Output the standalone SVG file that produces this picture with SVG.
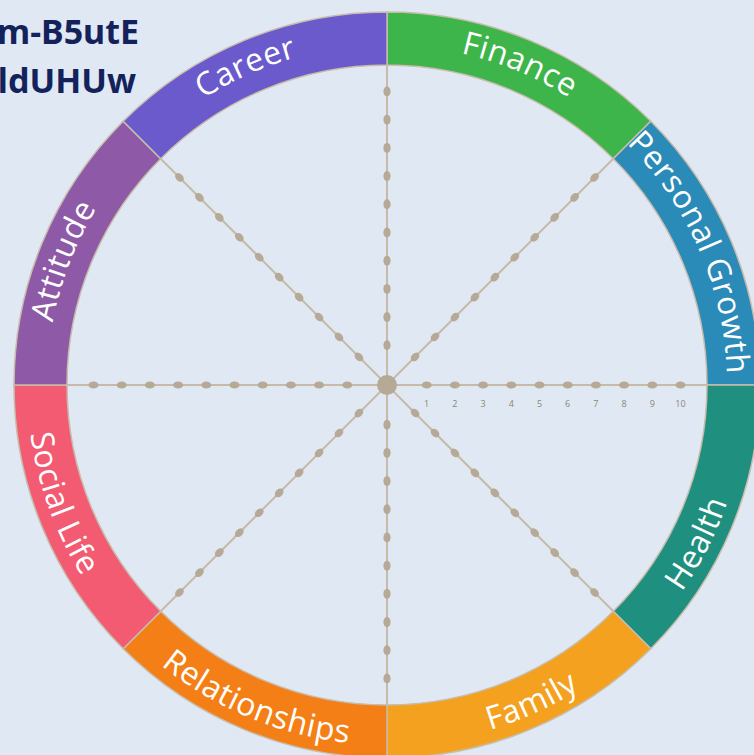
<svg xmlns="http://www.w3.org/2000/svg" xmlns:xlink="http://www.w3.org/1999/xlink" width="754" height="755" viewBox="0 0 754 755">
  <style>
    .seg { stroke: #c8bcab; stroke-width: 1.5; }
    .lbl { font-family: "Open Sans", "Noto Sans", "Liberation Sans", sans-serif; font-size: 32px; fill: #ffffff; letter-spacing: 0.5px; }
    .spoke { stroke: #c6baa8; stroke-width: 2; }
    .dot { fill: #b6a996; }
    .num { font-family: "Open Sans", "Liberation Sans", sans-serif; font-size: 9px; fill: #8e8476; text-anchor: middle; }
    .id { font-family: "Noto Sans", "Open Sans", "Liberation Sans", sans-serif; font-weight: bold; font-size: 34px; fill: #13225a; text-anchor: end; }
  </style>
  <defs>
    <!-- one spoke pointing right from the hub, with its ten score marks -->
    <g id="spoke">
      <line class="spoke" x1="0" y1="0" x2="320" y2="0"/>
      <ellipse class="dot" cx="39.7" cy="0" rx="5" ry="3.6"/>
      <ellipse class="dot" cx="67.9" cy="0" rx="5" ry="3.6"/>
      <ellipse class="dot" cx="96.1" cy="0" rx="5" ry="3.6"/>
      <ellipse class="dot" cx="124.3" cy="0" rx="5" ry="3.6"/>
      <ellipse class="dot" cx="152.5" cy="0" rx="5" ry="3.6"/>
      <ellipse class="dot" cx="180.7" cy="0" rx="5" ry="3.6"/>
      <ellipse class="dot" cx="208.9" cy="0" rx="5" ry="3.6"/>
      <ellipse class="dot" cx="237.1" cy="0" rx="5" ry="3.6"/>
      <ellipse class="dot" cx="265.3" cy="0" rx="5" ry="3.6"/>
      <ellipse class="dot" cx="293.5" cy="0" rx="5" ry="3.6"/>
    </g>
    <!-- label baselines: upper labels run clockwise, lower ones counter-clockwise -->
    <path id="p-finance" d="M 284.76 60.74 A 340 340 0 0 1 688.58 228.0"/>
    <path id="p-growth" d="M 538.71 80.72 A 340 340 0 0 1 713.0 481.57"/>
    <path id="p-career" d="M 81.41 235.95 A 340 340 0 0 1 480.72 58.17"/>
    <path id="p-attitude" d="M 65.52 495.69 A 340 340 0 0 1 222.16 87.63"/>
    <path id="p-health" d="M 527.66 716.38 A 360 360 0 0 0 737.77 304.02"/>
    <path id="p-family" d="M 290.79 731.91 A 360 360 0 0 0 711.93 539.98"/>
    <path id="p-relations" d="M 67.68 551.23 A 360 360 0 0 0 495.26 728.34"/>
    <path id="p-social" d="M 48.71 261.87 A 360 360 0 0 0 207 696.77"/>
  </defs>

  <rect width="754" height="755" fill="#e0e8f4"/>

  <!-- spokes from the hub to the rim -->
  <g id="connectors">
    <use xlink:href="#spoke" transform="translate(387,385) rotate(0)"/>
    <use xlink:href="#spoke" transform="translate(387,385) rotate(45)"/>
    <use xlink:href="#spoke" transform="translate(387,385) rotate(90)"/>
    <use xlink:href="#spoke" transform="translate(387,385) rotate(135)"/>
    <use xlink:href="#spoke" transform="translate(387,385) rotate(180)"/>
    <use xlink:href="#spoke" transform="translate(387,385) rotate(225)"/>
    <use xlink:href="#spoke" transform="translate(387,385) rotate(270)"/>
    <use xlink:href="#spoke" transform="translate(387,385) rotate(315)"/>
  </g>

  <g id="hub">
    <circle cx="387" cy="385" r="10" fill="#b6a996"/>
  </g>

  <!-- scale along the right spoke -->
  <g id="scale">
    <text class="num" x="426.7" y="407">1</text>
    <text class="num" x="454.9" y="407">2</text>
    <text class="num" x="483.1" y="407">3</text>
    <text class="num" x="511.3" y="407">4</text>
    <text class="num" x="539.5" y="407">5</text>
    <text class="num" x="567.7" y="407">6</text>
    <text class="num" x="595.9" y="407">7</text>
    <text class="num" x="624.1" y="407">8</text>
    <text class="num" x="652.3" y="407">9</text>
    <text class="num" x="680.5" y="407">10</text>
  </g>

  <!-- rim segments -->
  <g id="finance">
    <path class="seg" fill="#3db54a" d="M 387 12 A 373 373 0 0 1 650.75 121.25 L 613.27 158.73 A 320 320 0 0 0 387 65 Z"/>
    <text class="lbl"><textPath xlink:href="#p-finance" startOffset="50%" text-anchor="middle">Finance</textPath></text>
  </g>
  <g id="personal-growth">
    <path class="seg" fill="#2a8ab8" d="M 650.75 121.25 A 373 373 0 0 1 760 385 L 707 385 A 320 320 0 0 0 613.27 158.73 Z"/>
    <text class="lbl"><textPath xlink:href="#p-growth" startOffset="50%" text-anchor="middle">Personal Growth</textPath></text>
  </g>
  <g id="health">
    <path class="seg" fill="#1f907f" d="M 760 385 A 373 373 0 0 1 650.75 648.75 L 613.27 611.27 A 320 320 0 0 0 707 385 Z"/>
    <text class="lbl"><textPath xlink:href="#p-health" startOffset="50%" text-anchor="middle">Health</textPath></text>
  </g>
  <g id="family">
    <path class="seg" fill="#f4a11f" d="M 650.75 648.75 A 373 373 0 0 1 387 758 L 387 705 A 320 320 0 0 0 613.27 611.27 Z"/>
    <text class="lbl"><textPath xlink:href="#p-family" startOffset="50%" text-anchor="middle">Family</textPath></text>
  </g>
  <g id="relationships">
    <path class="seg" fill="#f47f16" d="M 387 758 A 373 373 0 0 1 123.25 648.75 L 160.73 611.27 A 320 320 0 0 0 387 705 Z"/>
    <text class="lbl"><textPath xlink:href="#p-relations" startOffset="50%" text-anchor="middle">Relationships</textPath></text>
  </g>
  <g id="social-life">
    <path class="seg" fill="#f25b72" d="M 123.25 648.75 A 373 373 0 0 1 14 385 L 67 385 A 320 320 0 0 0 160.73 611.27 Z"/>
    <text class="lbl"><textPath xlink:href="#p-social" startOffset="50%" text-anchor="middle">Social Life</textPath></text>
  </g>
  <g id="attitude">
    <path class="seg" fill="#8e5aa8" d="M 14 385 A 373 373 0 0 1 123.25 121.25 L 160.73 158.73 A 320 320 0 0 0 67 385 Z"/>
    <text class="lbl"><textPath xlink:href="#p-attitude" startOffset="50%" text-anchor="middle">Attitude</textPath></text>
  </g>
  <g id="career">
    <path class="seg" fill="#6a5acb" d="M 123.25 121.25 A 373 373 0 0 1 387 12 L 387 65 A 320 320 0 0 0 160.73 158.73 Z"/>
    <text class="lbl"><textPath xlink:href="#p-career" startOffset="50%" text-anchor="middle">Career</textPath></text>
  </g>

  <!-- reference code in the corner -->
  <g id="code">
    <text class="id" x="139" y="44">m-B5utE</text>
    <text class="id" x="136" y="93">ldUHUw</text>
  </g>
</svg>
